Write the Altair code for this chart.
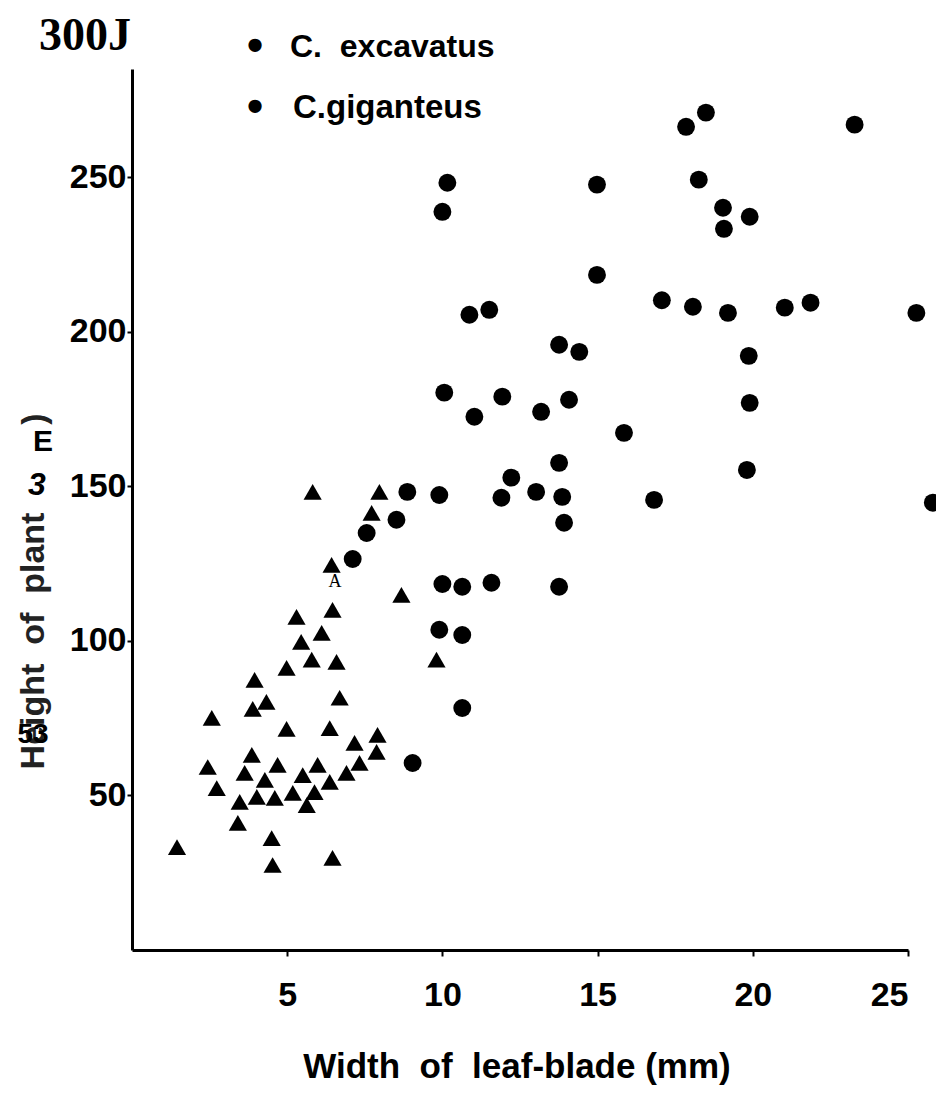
import altair as alt
import pandas as pd

# C. excavatus (triangles): leaf-blade width (mm), plant height (cm)
excavatus_width = [5.82, 7.97, 7.72, 6.43, 8.68, 6.46, 5.30, 6.11, 5.45, 5.79, 6.59, 4.98, 9.81,
                   3.95, 6.69, 4.33, 3.89, 2.57, 4.98, 6.37, 7.91, 7.17, 7.88, 7.33, 3.86, 4.69,
                   5.98, 2.44, 3.63, 6.91, 5.50, 4.28, 6.37, 2.73, 5.88, 3.47, 4.02, 4.60, 5.18,
                   5.63, 3.41, 1.45, 4.50, 4.53, 6.46]
excavatus_height = [148.2, 148.2, 141.4, 124.6, 114.9, 110.0, 107.8, 102.6, 99.7, 93.9, 93.2, 91.3, 93.9,
                    87.4, 81.6, 80.3, 78.0, 75.1, 71.5, 71.8, 69.6, 67.0, 64.1, 60.5, 63.1, 59.9,
                    59.9, 59.2, 57.3, 57.3, 56.6, 55.0, 54.4, 52.4, 51.1, 47.9, 49.5, 49.2, 50.8,
                    46.9, 41.1, 33.3, 36.2, 27.5, 29.8]

# C. giganteus (circles)
giganteus_width = [8.87, 9.90, 8.52, 7.56, 7.11, 10.00, 10.64, 11.58, 13.76, 9.90, 10.64, 10.64, 9.04,
                   11.03, 13.18, 15.85, 13.76, 12.22, 11.90, 13.02, 13.86, 13.92, 16.82, 10.16, 10.00,
                   14.98, 17.85, 14.98, 10.87, 11.51, 17.07, 13.76, 14.41, 10.06, 11.93, 14.08, 18.49,
                   23.28, 18.26, 19.04, 19.90, 19.07, 18.07, 19.20, 21.03, 21.86, 25.27, 19.87, 19.90,
                   19.81, 25.80]
giganteus_height = [148.2, 147.2, 139.2, 134.9, 126.5, 118.4, 117.5, 118.8, 117.5, 103.6, 101.9, 78.3, 60.5,
                    172.5, 174.1, 167.3, 157.6, 152.8, 146.3, 148.2, 146.6, 138.2, 145.6, 248.2, 238.8,
                    247.6, 266.3, 218.4, 205.5, 207.1, 210.2, 195.8, 193.5, 180.3, 179.0, 178.0, 270.9,
                    267.0, 249.2, 240.1, 237.2, 233.3, 208.1, 206.1, 207.8, 209.4, 206.1, 192.2, 177.0,
                    155.3, 144.7]

x_ticks = [5, 10, 15, 20, 25]
y_ticks = [50, 100, 150, 200, 250]
NB = "\u00a0"
legend_labels = ["C." + NB + NB + "excavatus", "C.giganteus"]
x_title = "Width" + NB + NB + "of" + NB + NB + "leaf-blade" + NB + "(mm)"
y_title = "Height" + NB + NB + "of" + NB + NB + "plant"

FONT = "Liberation Sans"

df_exc = pd.DataFrame({"width": excavatus_width, "height": excavatus_height})
df_gig = pd.DataFrame({"width": giganteus_width, "height": giganteus_height})

x_enc = alt.X("width:Q",
              scale=alt.Scale(domain=[0, 25], nice=False, zero=True),
              axis=alt.Axis(values=x_ticks, title=None, grid=False,
                            domainColor="black", domainWidth=3,
                            tickColor="black", tickWidth=2, tickSize=6,
                            labelFont=FONT, labelFontSize=34, labelFontWeight="bold",
                            labelColor="black", labelPadding=22))
y_enc = alt.Y("height:Q",
              scale=alt.Scale(domain=[0, 285], nice=False, zero=True),
              axis=alt.Axis(values=y_ticks, title=None, grid=False,
                            domainColor="black", domainWidth=3,
                            tickColor="black", tickWidth=2, tickSize=5,
                            labelFont=FONT, labelFontSize=34, labelFontWeight="bold",
                            labelColor="black", labelPadding=1))

tri = alt.Chart(df_exc).mark_point(shape="triangle-up", filled=True, color="black",
                                   opacity=1, size=330).encode(x=x_enc, y=y_enc)
circ = alt.Chart(df_gig).mark_circle(color="black", opacity=1, size=320).encode(x=x_enc, y=y_enc)


def txt(s, x, y, size, font=FONT, weight="bold", angle=0, align="center",
        style="normal", color="black"):
    kw = dict(font=font, fontSize=size, fontWeight=weight, align=align,
              baseline="middle", color=color, fontStyle=style)
    if angle:
        kw["angle"] = angle
    return alt.Chart(pd.DataFrame({"t": [s]})).mark_text(**kw).encode(
        x=alt.value(x), y=alt.value(y), text="t:N")


layers = [
    tri, circ,
    # legend
    txt("•", 123, -22, 46),
    txt(legend_labels[0], 158, -22, 32, align="left"),
    txt("•", 123, 39, 46),
    txt(legend_labels[1], 161, 39, 33, align="left"),
    # top label
    txt("300J", -93, -33, 46, font="Liberation Serif", align="left"),
    # y title
    txt(y_title, -98, 572, 34, angle=270, color="#222222"),
    txt(")", -97, 350, 34, angle=270, color="#222222"),
    txt("E", -89, 373, 30),
    txt("3", -95, 416, 32, style="italic"),
    txt("53", -99, 666, 28),
    # stray mark
    txt("A", 203, 513, 18, font="Liberation Serif", weight="normal"),
    # x title
    txt(x_title, 385, 998, 35),
]

chart = alt.layer(*layers).properties(
    width=776, height=881,
    autosize=alt.AutoSizeParams(type="none"),
    padding={"left": 124, "top": 61, "right": 28, "bottom": 140},
    background="white",
).configure_view(stroke=None)

chart.save("out.html", embed_options={"renderer": "svg", "actions": False})
